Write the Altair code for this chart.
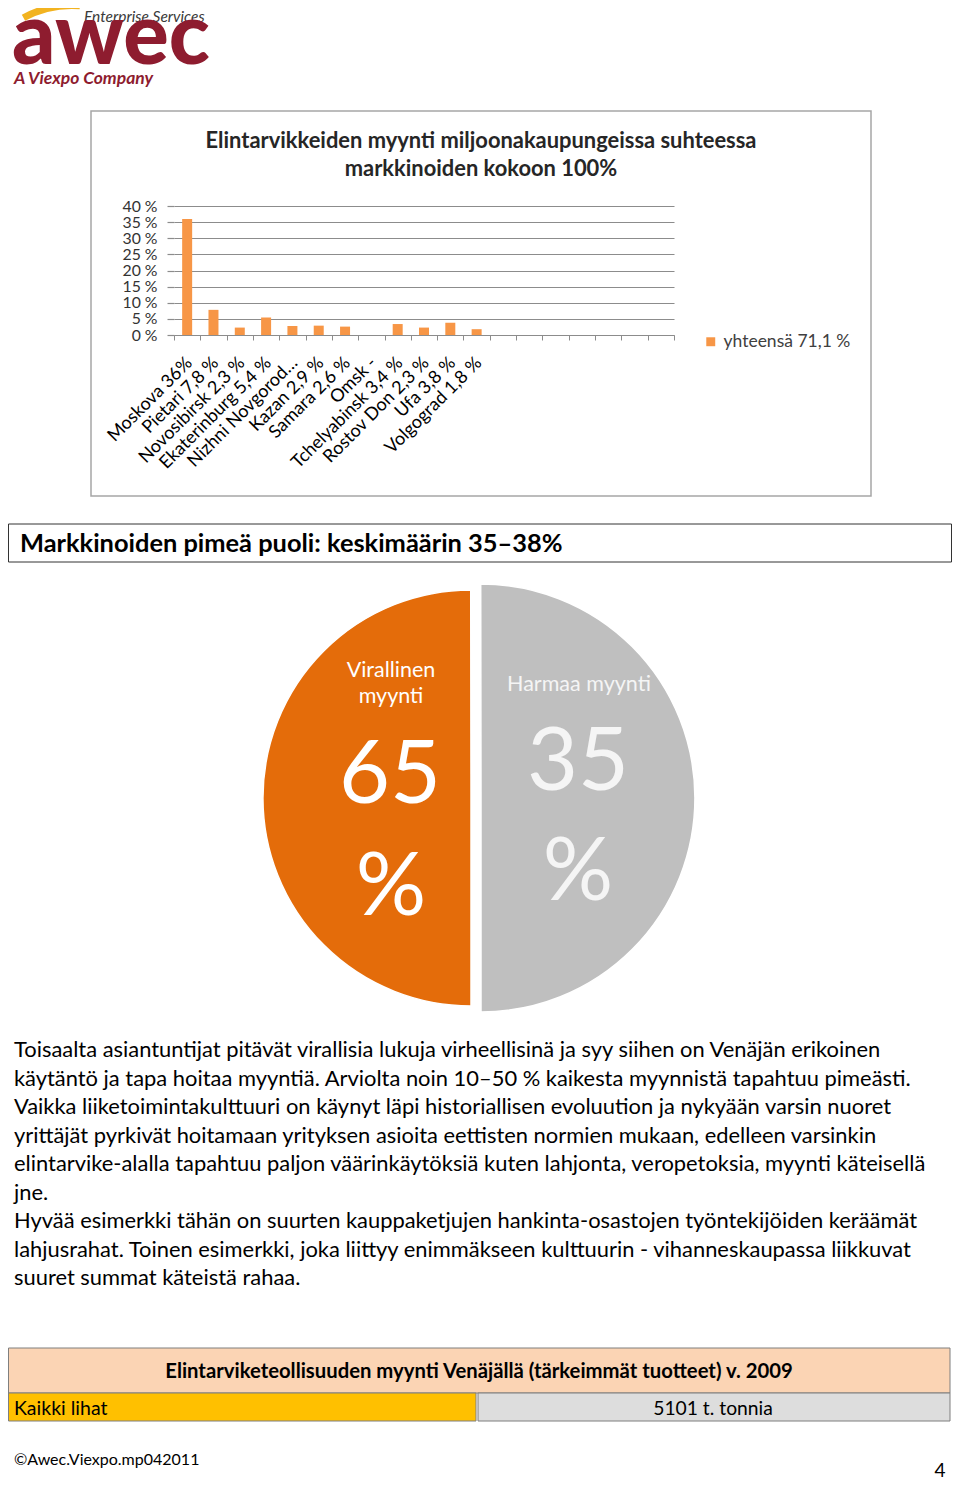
import math
import altair as alt
import pandas as pd

FONT = "Lato"

# ---------------- data ----------------
cities = ["Moskova 36%", "Pietari 7,8 %", "Novosibirsk 2,3 %", "Ekaterinburg 5,4 %",
          "Nizhni Novgorod…", "Kazan 2,9 %", "Samara 2,6 %", "Omsk -",
          "Tchelyabinsk 3,4 %", "Rostov Don 2,3 %", "Ufa 3,8 %", "Volgograd 1,8 %"]
shares = [36, 7.8, 2.3, 5.4, 2.8, 2.9, 2.6, None, 3.4, 2.3, 3.8, 1.8]
blank_slots = [" " * k for k in range(1, 8)]
series_name = "yhteensä 71,1 %"
y_ticks = [0, 5, 10, 15, 20, 25, 30, 35, 40]

pie_labels = ["Virallinen myynti", "Harmaa myynti"]
pie_values = [65, 35]

chart_title = ["Elintarvikkeiden myynti miljoonakaupungeissa  suhteessa",
               "markkinoiden kokoon 100%"]
section_title = "Markkinoiden pimeä puoli: keskimäärin 35–38%"
paragraph = [
    "Toisaalta asiantuntijat pitävät virallisia lukuja virheellisinä ja syy siihen on Venäjän erikoinen",
    "käytäntö ja tapa hoitaa myyntiä. Arviolta noin 10–50 % kaikesta myynnistä tapahtuu pimeästi.",
    "Vaikka liiketoimintakulttuuri on käynyt läpi historiallisen evoluution ja nykyään varsin nuoret",
    "yrittäjät pyrkivät hoitamaan yrityksen asioita eettisten normien mukaan, edelleen varsinkin",
    "elintarvike-alalla tapahtuu paljon väärinkäytöksiä kuten lahjonta, veropetoksia, myynti käteisellä",
    "jne.",
    "Hyvää esimerkki tähän on suurten kauppaketjujen hankinta-osastojen työntekijöiden keräämät",
    "lahjusrahat. Toinen esimerkki, joka liittyy enimmäkseen kulttuurin - vihanneskaupassa liikkuvat",
    "suuret summat käteistä rahaa.",
]
table_title = "Elintarviketeollisuuden myynti Venäjällä (tärkeimmät tuotteet) v. 2009"
table_item = "Kaikki lihat"
table_value = "5101 t. tonnia"
footer_text = "©Awec.Viexpo.mp042011"
page_number = "4"

W, H = 944, 1475
one = alt.Data(values=[{}])


def txt(s, x, y, size, color="#000000", weight="normal", align="left",
        baseline="middle", style="normal", **kw):
    return alt.Chart(one).mark_text(
        text=s, fontSize=size, color=color, fontWeight=weight, align=align,
        baseline=baseline, fontStyle=style, font=FONT, **kw
    ).encode(x=alt.value(x), y=alt.value(y))


def box(x, x2, y, y2, fill, stroke=None, sw=1.0):
    kw = dict(fill=fill)
    if stroke:
        kw.update(stroke=stroke, strokeWidth=sw)
    return alt.Chart(one).mark_rect(**kw).encode(
        x=alt.value(x), x2=alt.value(x2), y=alt.value(y), y2=alt.value(y2))


layers = []

# ---------------- logo ----------------
layers.append(alt.Chart(one).mark_arc(radius=106, radius2=99, theta=5.79, theta2=6.36,
                                      color="#F2B320").encode(x=alt.value(64), y=alt.value(100)))
layers.append(txt("Enterprise Services", 76, 9, 15.5, color="#3a3a3a", style="italic"))
layers.append(txt("awec", 4, 56, 85, color="#8E1C2F", weight=900, baseline="alphabetic"))
layers.append(txt("A Viexpo Company", 6, 71, 17.5, color="#8E1C2F", weight="bold", style="italic"))

# ---------------- bar chart ----------------
layers.append(box(83, 863, 103, 488, "transparent", stroke="#A6A6A6", sw=1.5))
for i, line in enumerate(chart_title):
    layers.append(txt(line, 473, 133 + i * 28, 21.9, color="#262626", weight="bold", align="center"))

bar_df = pd.DataFrame({"city": cities, "share": shares, "series": series_name})
domain = cities + blank_slots
grid_col = "#8c8c8c"
bars = alt.Chart(bar_df).mark_bar(width=alt.RelativeBandSize(0.38)).encode(
    x=alt.X("city:N", sort=domain,
            scale=alt.Scale(domain=domain, range=[166, 666], paddingInner=0, paddingOuter=0),
            axis=alt.Axis(title=None, orient="bottom", offset=327 - H, tickBand="extent",
                          labelAngle=-45, labelAlign="right", labelBaseline="middle",
                          labelFontSize=18, labelFont=FONT, labelColor="#000000",
                          tickSize=5, tickColor=grid_col, domainColor=grid_col, domainWidth=1.2,
                          labelPadding=20, labelOffset=2, grid=False, labelOverlap=False,
                          labelLimit=300)),
    y=alt.Y("share:Q",
            scale=alt.Scale(domain=[0, 40], range=[327, 198], nice=False, zero=True),
            axis=alt.Axis(title=None, orient="left", offset=-166, values=y_ticks,
                          labelExpr="datum.value + ' %'", grid=True, gridColor=grid_col,
                          gridWidth=1.2, domain=False, tickSize=7, tickColor=grid_col,
                          tickWidth=1.2, labelPadding=10, labelFontSize=15.8, labelFont=FONT,
                          labelColor="#333333", labelOverlap=False)),
    color=alt.Color("series:N", scale=alt.Scale(range=["#F79646"]),
                    legend=alt.Legend(orient="none", legendX=694, legendY=325, title=None,
                                      symbolType="square", symbolSize=80, symbolStrokeWidth=0,
                                      labelFontSize=17.5, labelFont=FONT, labelColor="#404040")),
)
layers.append(bars)

# ---------------- section header ----------------
layers.append(box(0.5, 943.5, 516, 554, "white", stroke="#333333", sw=1))
layers.append(txt(section_title, 12, 536, 25.4, weight="bold"))

# ---------------- pie ----------------
pie_df = pd.DataFrame({"slice": pie_labels, "value": pie_values, "order": [0, 1]})
theta_scale = alt.Scale(type="pow", exponent=1.61, domain=[0, 100],
                        range=[math.pi, 3 * math.pi])


def pie_layer(name, cx, r, color):
    return alt.Chart(pie_df).transform_window(
        end="sum(value)", sort=[alt.SortField("order")], frame=[None, 0]
    ).transform_calculate(start="datum.end - datum.value").transform_filter(
        alt.datum.slice == name
    ).mark_arc(radius=r, color=color, stroke="#ffffff", strokeWidth=1.5).encode(
        theta=alt.Theta("start:Q", scale=theta_scale), theta2="end:Q",
        x=alt.value(cx), y=alt.value(790))


layers.append(pie_layer(pie_labels[0], 463, 208, "#E46C0A"))
layers.append(pie_layer(pie_labels[1], 473, 214, "#BFBFBF"))
layers.append(txt("Virallinen", 383, 663, 21.5, color="white", align="center"))
layers.append(txt("myynti", 383, 689, 21.5, color="white", align="center"))
layers.append(txt(f"{pie_values[0]}", 382, 795, 88, color="white", align="center", baseline="alphabetic"))
layers.append(txt("%", 383, 907, 88, color="white", align="center", baseline="alphabetic"))
layers.append(txt("Harmaa myynti", 571, 677, 21.5, color="#F5F5F5", align="center"))
layers.append(txt(f"{pie_values[1]}", 570, 782, 88, color="#F5F5F5", align="center", baseline="alphabetic"))
layers.append(txt("%", 570, 892, 88, color="#F5F5F5", align="center", baseline="alphabetic"))

# ---------------- paragraph ----------------
for i, line in enumerate(paragraph):
    layers.append(txt(line, 6, 1042 + i * 28.55, 21.9))

# ---------------- table ----------------
layers.append(box(0.5, 942, 1340, 1385, "#FBD4B4", stroke="#7F7F7F", sw=1))
layers.append(txt(table_title, 471, 1364, 20.3, weight="bold", align="center"))
layers.append(box(0.5, 468, 1385, 1413, "#FFC000", stroke="#7F7F7F", sw=1))
layers.append(box(470, 942, 1385, 1413, "#DDDDDD", stroke="#7F7F7F", sw=1))
layers.append(txt(table_item, 6, 1401, 19.5))
layers.append(txt(table_value, 705, 1401, 19.3, align="center"))

# ---------------- footer ----------------
layers.append(txt(footer_text, 6, 1452, 16))
layers.append(txt(page_number, 932, 1469, 19, align="center", baseline="alphabetic"))

chart = alt.layer(*layers).properties(
    width=W, height=H, padding=0, background="white",
    autosize=alt.AutoSizeParams(type="none"),
).configure_view(strokeWidth=0)

chart.save("out.html", embed_options={"renderer": "svg", "actions": False})
